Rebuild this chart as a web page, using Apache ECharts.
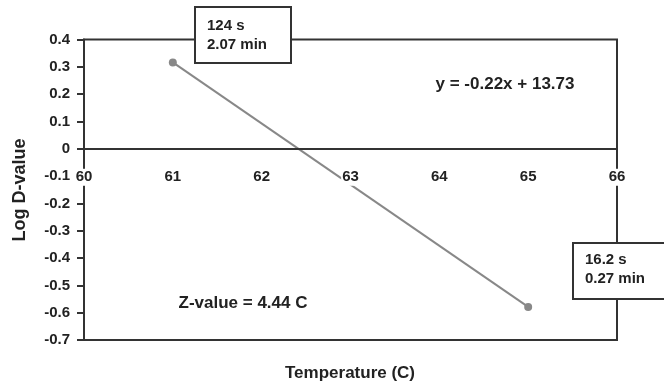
<!DOCTYPE html>
<html>
<head>
<meta charset="utf-8">
<script src="https://cdn.jsdelivr.net/npm/echarts@6/dist/echarts.min.js"></script>
<style>html,body{margin:0;padding:0;background:#fff;}#c{width:664px;height:385px;}</style>
</head>
<body>
<div id="c"></div>
<script>
const temperatures = [61, 65];
const logD = [0.316, -0.579];
const xTicks = [60, 61, 62, 63, 64, 65, 66];
const yMin = -0.7, yMax = 0.4, yStep = 0.1;
const xTitle = 'Temperature (C)';
const yTitle = 'Log D-value';
const equation = 'y = -0.22x + 13.73';
const zText = 'Z-value = 4.44 C';
const box1 = '124 s\n2.07 min';
const box2 = '16.2 s\n0.27 min';

const FONT = '"Liberation Sans", Arial, Helvetica, sans-serif';
const INK = '#222';
const chart = echarts.init(document.getElementById('c'), null, {renderer: 'canvas'});
chart.setOption({
  animation: false,
  backgroundColor: '#fff',
  grid: {left: 84, right: 47, top: 39.5, bottom: 45, show: true, borderColor: '#333', borderWidth: 2, backgroundColor: 'transparent'},
  xAxis: {
    type: 'value', min: xTicks[0], max: xTicks[xTicks.length - 1], interval: 1,
    position: 'bottom', offset: 0, z: 10,
    axisLine: {onZero: false, lineStyle: {color: '#333', width: 2}},
    axisTick: {show: false},
    splitLine: {show: false},
    axisLabel: {color: INK, fontFamily: FONT, fontWeight: 'bold', fontSize: 15, margin: 20,
      backgroundColor: '#fff', padding: [1, 1, 1, 1], showMinLabel: true, showMaxLabel: true}
  },
  yAxis: {
    type: 'value', min: yMin, max: yMax, interval: yStep,
    axisLine: {show: true, onZero: false, lineStyle: {color: '#333', width: 2}},
    axisTick: {show: true, length: 7, lineStyle: {color: '#333', width: 2}},
    splitLine: {show: false},
    axisLabel: {color: INK, fontFamily: FONT, fontWeight: 'bold', fontSize: 15, margin: 14,
      formatter: v => { const r = Math.round(v * 10) / 10; return r === 0 ? '0' : r.toFixed(1); }}
  },
  series: [{
    type: 'line',
    data: temperatures.map((t, i) => [t, logD[i]]),
    symbol: 'circle', symbolSize: 8,
    lineStyle: {color: '#888', width: 2},
    itemStyle: {color: '#888'},
    z: 3
  }],
  graphic: [
    {type: 'rect', z: 100, shape: {x: 195, y: 7, width: 96, height: 56}, style: {fill: '#fff', stroke: '#333', lineWidth: 2}},
    {type: 'text', z: 101, x: 207, y: 16, style: {text: box1, font: 'bold 15px ' + FONT, fill: INK, lineHeight: 19.5}},
    {type: 'rect', z: 100, shape: {x: 573, y: 243, width: 100, height: 56}, style: {fill: '#fff', stroke: '#333', lineWidth: 2}},
    {type: 'text', z: 101, x: 585, y: 250, style: {text: box2, font: 'bold 15px ' + FONT, fill: INK, lineHeight: 19.5}},
    {type: 'text', z: 101, x: 505, y: 84, style: {text: equation, font: 'bold 17px ' + FONT, fill: INK, align: 'center', verticalAlign: 'middle'}},
    {type: 'text', z: 101, x: 243, y: 303, style: {text: zText, font: 'bold 17px ' + FONT, fill: INK, align: 'center', verticalAlign: 'middle'}},
    {type: 'text', z: 101, x: 350, y: 373, style: {text: xTitle, font: 'bold 17px ' + FONT, fill: INK, align: 'center', verticalAlign: 'middle'}},
    {type: 'text', z: 101, x: 20, y: 190, rotation: Math.PI / 2, style: {text: yTitle, font: 'bold 18px ' + FONT, fill: INK, align: 'center', verticalAlign: 'middle'}}
  ]
});
// Move the x axis (line + labels) up to y = 0 using the library's own scale.
const zeroY = chart.convertToPixel({yAxisIndex: 0}, 0);
const bottomY = chart.convertToPixel({yAxisIndex: 0}, yMin);
chart.setOption({xAxis: {offset: -(bottomY - zeroY)}});
</script>
</body>
</html>
